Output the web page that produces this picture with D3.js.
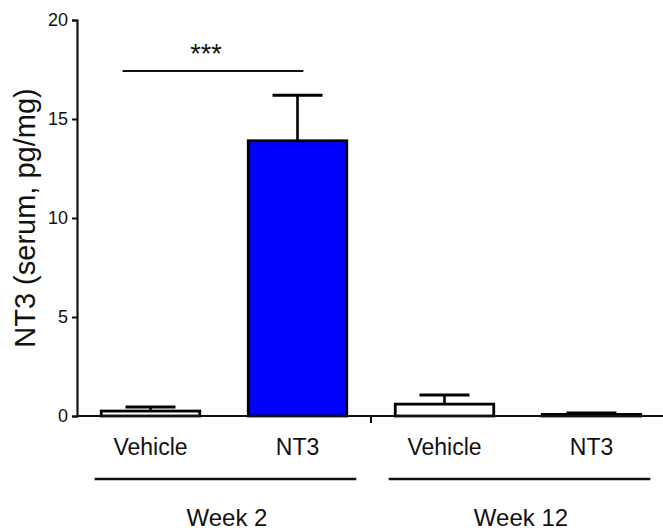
<!DOCTYPE html>
<html>
<head>
<meta charset="utf-8">
<script src="https://cdn.jsdelivr.net/npm/d3@7"></script>
<style>
  html, body { margin: 0; padding: 0; background: #fff; }
  svg { display: block; }
  text { font-family: Arial, "Liberation Sans", sans-serif; fill: #111; }
</style>
</head>
<body>
<svg id="chart" width="663" height="531"></svg>
<script>
// ---- Data ----
const categories = ["Vehicle", "NT3", "Vehicle", "NT3"];
const groups = ["Week 2", "Week 2", "Week 12", "Week 12"];
const means = [0.25, 13.9, 0.6, 0.08];
const sems = [0.2, 2.3, 0.46, 0.07];
const fills = ["#ffffff", "#0000ff", "#ffffff", "#ffffff"];
const yTicks = [0, 5, 10, 15, 20];
const groupNames = ["Week 2", "Week 12"];
const yTitle = "NT3 (serum, pg/mg)";
const sigLabel = "***";

// ---- Layout ----
const svg = d3.select("#chart");
const axisX = 77, axisBottom = 416, axisTop = 20;

const keys = categories.map((c, i) => i);
const x = d3.scaleBand().domain(keys).range([axisX, 665]).padding(0);
const step = x.bandwidth();
const barW = step * 0.67;
const capW = step * 0.34;
const y = d3.scaleLinear().domain([0, 20]).range([axisBottom, axisTop]);
const cx = i => x(i) + step / 2;

// Y axis
const yAxis = d3.axisLeft(y).tickValues(yTicks).tickSize(5).tickPadding(4);
const gy = svg.append("g").attr("transform", `translate(${axisX},0)`).call(yAxis);
gy.select(".domain").attr("stroke", "#111").attr("stroke-width", 2.2);
gy.selectAll(".tick line").attr("stroke", "#111").attr("stroke-width", 2);
gy.selectAll(".tick text").style("font-size", "18px").attr("fill", "#222")
  .style("font-family", "Arial, 'Liberation Sans', sans-serif");

// Bars
svg.append("g").selectAll("rect").data(keys).join("rect")
  .attr("x", i => cx(i) - barW / 2)
  .attr("y", i => y(means[i]))
  .attr("width", barW)
  .attr("height", i => y(0) - y(means[i]))
  .attr("fill", i => fills[i])
  .attr("stroke", "#000")
  .attr("stroke-width", 2.8);

// Error bars (upper only)
const eb = svg.append("g").attr("stroke", "#000");
eb.selectAll("line.stem").data(keys).join("line").attr("class", "stem")
  .attr("x1", cx).attr("x2", cx)
  .attr("y1", i => y(means[i])).attr("y2", i => y(means[i] + sems[i]))
  .attr("stroke-width", 2.6);
eb.selectAll("line.cap").data(keys).join("line").attr("class", "cap")
  .attr("x1", i => cx(i) - capW / 2).attr("x2", i => cx(i) + capW / 2)
  .attr("y1", i => y(means[i] + sems[i])).attr("y2", i => y(means[i] + sems[i]))
  .attr("stroke-width", 3);

// X axis line
svg.append("line")
  .attr("x1", axisX).attr("x2", 663)
  .attr("y1", axisBottom).attr("y2", axisBottom)
  .attr("stroke", "#111").attr("stroke-width", 2.2);
// small tick between groups
svg.append("line")
  .attr("x1", x(2)).attr("x2", x(2))
  .attr("y1", axisBottom).attr("y2", axisBottom + 7)
  .attr("stroke", "#111").attr("stroke-width", 2);

// Category labels
svg.append("g").selectAll("text").data(keys).join("text")
  .attr("x", cx).attr("y", 455)
  .attr("text-anchor", "middle")
  .style("font-size", "23px")
  .text(i => categories[i]);

// Group lines + labels
groupNames.forEach(g => {
  const idx = keys.filter(i => groups[i] === g);
  const c0 = cx(idx[0]), c1 = cx(idx[idx.length - 1]);
  svg.append("line")
    .attr("x1", c0 - step * 0.38).attr("x2", c1 + step * 0.4)
    .attr("y1", 479).attr("y2", 479)
    .attr("stroke", "#111").attr("stroke-width", 2.4);
  svg.append("text")
    .attr("x", (c0 + c1) / 2 + 3).attr("y", 526)
    .attr("text-anchor", "middle")
    .style("font-size", "24px")
    .text(g);
});

// Significance
svg.append("line")
  .attr("x1", cx(0) - step * 0.19).attr("x2", cx(1) + step * 0.04)
  .attr("y1", 71).attr("y2", 71)
  .attr("stroke", "#111").attr("stroke-width", 2);
svg.append("text")
  .attr("x", (cx(0) + cx(1)) / 2 - 18).attr("y", 63)
  .attr("text-anchor", "middle")
  .style("font-size", "27px")
  .text(sigLabel);

// Y title
svg.append("text")
  .attr("transform", `translate(35, ${(axisTop + axisBottom) / 2}) rotate(-90)`)
  .attr("text-anchor", "middle")
  .style("font-size", "29px")
  .text(yTitle);
</script>
</body>
</html>
